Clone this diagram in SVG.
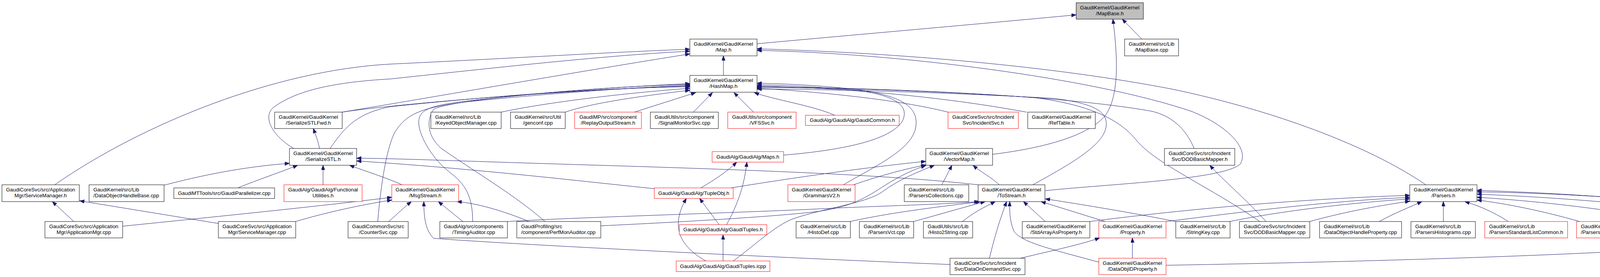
<svg xmlns="http://www.w3.org/2000/svg" width="4921" height="709" viewBox="0 0 4921 709">
<defs>
<style>
.n rect{fill:#fff;stroke:#000;stroke-width:1}
.r rect{stroke:#f00}
.g rect{fill:#bfbfbf}
text{font-family:"Liberation Sans",Arial,Helvetica,sans-serif;font-size:13.33px;fill:#000}
.c{text-anchor:middle}
#edges path{fill:none;stroke:#191970;stroke-width:1;marker-end:url(#ah)}
</style>
<marker id="ah" markerUnits="userSpaceOnUse" markerWidth="13" markerHeight="10" refX="12" refY="4.5" orient="auto"><path d="M0,0 L12,4.5 L0,9 z" fill="#191970" stroke="#191970" stroke-width="1"/></marker>
</defs>
<rect width="4921" height="709" fill="#fff"/>
<g id="edges">
<path d="M1938,112 C2200,88 2500,62 2755,38"/>
<path d="M2541,395 C2680,378 2790,345 2830,295 C2865,245 2862,150 2849,49"/>
<path d="M2923,100 L2873,49"/>
<path d="M1852,193 L1852,143"/>
<path d="M140,473 C360,320 700,180 1000,164 C1300,150 1550,134 1766,126"/>
<path d="M752,380 C700,350 670,300 700,275 C760,230 860,210 1000,202 C1300,170 1550,142 1766,131"/>
<path d="M876,287 C1100,250 1500,180 1766,138"/>
<path d="M3650,473 C3500,370 3250,280 3000,228 C2700,170 2300,135 1938,125"/>
<path d="M2676,488 C2850,470 3130,460 3175,420 C3200,380 3140,320 3050,285 C2800,200 2300,136 1938,129"/>
<path d="M876,287 C1000,268 1400,233 1766,220"/>
<path d="M845,380 C880,330 910,290 1000,273 C1300,242 1550,225 1766,222"/>
<path d="M967,567 C975,470 990,380 1010,340 C1040,290 1080,275 1200,260 C1400,240 1600,225 1766,218"/>
<path d="M1210,567 C1210,500 1190,470 1150,440 C1100,400 1070,340 1072,310 C1075,280 1100,270 1200,258 C1400,235 1600,220 1766,216"/>
<path d="M1395,567 C1320,500 1200,430 1130,380 C1095,350 1090,310 1110,280 C1150,255 1500,226 1766,214"/>
<path d="M1283,287 C1400,262 1600,238 1766,226"/>
<path d="M1447,287 C1520,262 1650,245 1766,231"/>
<path d="M1624,287 L1781,237"/>
<path d="M1775,287 L1824,237"/>
<path d="M1929,287 L1879,237"/>
<path d="M2137,295 C2080,270 1980,255 1931,237"/>
<path d="M2006,397 C2150,385 2280,360 2310,310 C2330,270 2290,245 2200,232 C2100,222 2000,218 1938,217"/>
<path d="M2159,473 C2250,420 2340,380 2345,320 C2350,270 2300,245 2200,230 C2100,218 2000,214 1938,213"/>
<path d="M2427,287 C2300,255 2100,235 1938,226"/>
<path d="M2628,287 C2400,245 2150,225 1938,220"/>
<path d="M2644,473 C2740,420 2830,370 2832,320 C2834,285 2800,265 2700,252 C2400,235 2100,228 1938,228"/>
<path d="M3057,380 C3040,340 3010,300 2950,285 C2700,240 2200,224 1938,222"/>
<path d="M3225,567 C3100,480 2960,420 2910,360 C2870,310 2800,270 2650,250 C2400,232 2100,224 1938,224"/>
<path d="M1871,481 C2000,460 2200,430 2370,413"/>
<path d="M2185,473 C2250,450 2320,432 2370,422"/>
<path d="M1877,668 C1930,630 1980,580 2030,560 C2120,530 2220,520 2260,490 C2300,460 2350,440 2392,423"/>
<path d="M1538,578 C1750,568 1950,556 2060,545 C2170,535 2210,510 2260,478 C2300,452 2340,433 2370,424"/>
<path d="M2411,473 L2437,423"/>
<path d="M2558,473 C2540,455 2510,440 2491,423"/>
<path d="M1299,567 C1500,555 1900,545 2150,532 C2300,526 2430,522 2506,516"/>
<path d="M2176,567 C2300,540 2420,528 2510,516"/>
<path d="M2339,567 C2400,550 2470,530 2522,516"/>
<path d="M2464,567 C2490,545 2520,530 2548,516"/>
<path d="M2533,661 C2545,610 2560,560 2577,516"/>
<path d="M2813,671 C2700,640 2610,620 2595,590 C2585,565 2584,540 2585,516"/>
<path d="M2676,567 L2620,516"/>
<path d="M2829,567 L2665,516"/>
<path d="M3010,567 C2900,545 2780,525 2676,509"/>
<path d="M1029,473 C990,455 940,440 895,423"/>
<path d="M314,579 C500,560 800,530 1003,505"/>
<path d="M757,567 C830,545 920,525 1003,512"/>
<path d="M995,567 C1015,550 1035,530 1053,516"/>
<path d="M1185,567 L1122,516"/>
<path d="M1354,567 C1290,540 1220,520 1170,516"/>
<path d="M2432,677 C2000,660 1300,625 1110,610 C1090,590 1085,560 1085,516"/>
<path d="M189,567 L134,516"/>
<path d="M559,572 L204,514"/>
<path d="M420,474 C550,440 650,425 741,418"/>
<path d="M609,481 C660,460 720,440 762,423"/>
<path d="M827,473 L827,423"/>
<path d="M818,380 C814,360 808,345 802,329"/>
<path d="M2504,473 C2300,450 2000,437 1500,422 C1200,413 1000,405 913,405"/>
<path d="M1675,483 C1500,465 1200,430 913,412"/>
<path d="M1794,481 C1830,460 1860,440 1886,415"/>
<path d="M1860,575 C1885,530 1905,480 1912,415"/>
<path d="M1841,575 L1791,508"/>
<path d="M1807,668 C1740,630 1715,580 1757,508"/>
<path d="M1851,668 L1851,601"/>
<path d="M2899,661 L2899,609"/>
<path d="M2612,661 C2700,640 2770,625 2815,609"/>
<path d="M2790,567 C3000,540 3300,510 3609,500"/>
<path d="M2985,567 C3200,540 3400,515 3609,505"/>
<path d="M3148,567 C3280,540 3450,520 3609,509"/>
<path d="M3353,567 C3450,540 3540,525 3609,515"/>
<path d="M3531,567 C3570,545 3610,530 3640,516"/>
<path d="M3695,567 L3695,516"/>
<path d="M3861,567 C3820,540 3780,525 3750,516"/>
<path d="M4044,567 C3950,540 3850,520 3781,512"/>
<path d="M4280,567 C4150,540 3950,515 3781,505"/>
<path d="M4537,567 C4300,530 4000,505 3781,497"/>
<path d="M4728,567 C4400,520 4050,495 3781,491"/>
<path d="M2985,679 C3500,670 4200,650 4440,622 C4490,605 4495,570 4455,553 C4300,510 4000,495 3781,487"/>
<path d="M3241,567 C3190,510 3130,460 3097,423"/>
</g>
<g id="n_mapbase_h" class="n g"><rect x="2755" y="7" width="172" height="42"/><text class="c" x="2841" y="24">GaudiKernel/GaudiKernel</text><text class="c" x="2841" y="39">/MapBase.h</text></g>
<g id="n_map_h" class="n"><rect x="1766" y="100" width="172" height="43"/><text class="c" x="1852" y="117">GaudiKernel/GaudiKernel</text><text class="c" x="1852" y="132">/Map.h</text></g>
<g id="n_mapbase_cpp" class="n"><rect x="2879" y="100" width="138" height="43"/><text class="c" x="2948" y="117">GaudiKernel/src/Lib</text><text class="c" x="2948" y="132">/MapBase.cpp</text></g>
<g id="n_hashmap_h" class="n"><rect x="1766" y="193" width="172" height="43"/><text class="c" x="1852" y="210">GaudiKernel/GaudiKernel</text><text class="c" x="1852" y="225">/HashMap.h</text></g>
<g id="n_serializestlfwd_h" class="n"><rect x="703" y="287" width="173" height="42"/><text class="c" x="789.5" y="304">GaudiKernel/GaudiKernel</text><text class="c" x="789.5" y="319">/SerializeSTLFwd.h</text></g>
<g id="n_keyedobjectmanager_cpp" class="n"><rect x="1103" y="287" width="180" height="42"/><text x="1114" y="304">GaudiKernel/src/Lib</text><text x="1114" y="319">/KeyedObjectManager.cpp</text></g>
<g id="n_genconf_cpp" class="n"><rect x="1307" y="287" width="140" height="42"/><text class="c" x="1377" y="304">GaudiKernel/src/Util</text><text class="c" x="1377" y="319">/genconf.cpp</text></g>
<g id="n_replayoutputstream_h" class="n r"><rect x="1471" y="287" width="171" height="42"/><text class="c" x="1556.5" y="304">GaudiMP/src/component</text><text class="c" x="1556.5" y="319">/ReplayOutputStream.h</text></g>
<g id="n_signalmonitorsvc_cpp" class="n"><rect x="1665" y="287" width="174" height="42"/><text class="c" x="1752" y="304">GaudiUtils/src/component</text><text class="c" x="1752" y="319">/SignalMonitorSvc.cpp</text></g>
<g id="n_vfssvc_h" class="n r"><rect x="1863" y="287" width="175" height="42"/><text class="c" x="1950.5" y="304">GaudiUtils/src/component</text><text class="c" x="1950.5" y="319">/VFSSvc.h</text></g>
<g id="n_gaudicommon_h" class="n r"><rect x="2062" y="295" width="240" height="26"/><text class="c" x="2182" y="312">GaudiAlg/GaudiAlg/GaudiCommon.h</text></g>
<g id="n_incidentsvc_h" class="n r"><rect x="2427" y="287" width="180" height="42"/><text class="c" x="2517" y="304">GaudiCoreSvc/src/Incident</text><text class="c" x="2517" y="319">Svc/IncidentSvc.h</text></g>
<g id="n_reftable_h" class="n"><rect x="2631" y="287" width="173" height="42"/><text class="c" x="2717.5" y="304">GaudiKernel/GaudiKernel</text><text class="c" x="2717.5" y="319">/RefTable.h</text></g>
<g id="n_serializestl_h" class="n"><rect x="741" y="380" width="172" height="43"/><text class="c" x="827" y="397">GaudiKernel/GaudiKernel</text><text class="c" x="827" y="412">/SerializeSTL.h</text></g>
<g id="n_maps_h" class="n r"><rect x="1823" y="388" width="183" height="27"/><text class="c" x="1914.5" y="406">GaudiAlg/GaudiAlg/Maps.h</text></g>
<g id="n_vectormap_h" class="n"><rect x="2370" y="380" width="171" height="43"/><text class="c" x="2455.5" y="397">GaudiKernel/GaudiKernel</text><text class="c" x="2455.5" y="412">/VectorMap.h</text></g>
<g id="n_dodbasicmapper_h" class="n"><rect x="2981" y="380" width="180" height="43"/><text class="c" x="3071" y="397">GaudiCoreSvc/src/Incident</text><text class="c" x="3071" y="412">Svc/DODBasicMapper.h</text></g>
<g id="n_servicemanager_h" class="n"><rect x="5" y="473" width="198" height="43"/><text class="c" x="104" y="490">GaudiCoreSvc/src/Application</text><text class="c" x="104" y="505">Mgr/ServiceManager.h</text></g>
<g id="n_dataobjecthandlebase_cpp" class="n"><rect x="228" y="473" width="192" height="43"/><text x="239" y="490">GaudiKernel/src/Lib</text><text x="239" y="505">/DataObjectHandleBase.cpp</text></g>
<g id="n_gaudiparallelizer_cpp" class="n"><rect x="445" y="481" width="258" height="27"/><text class="c" x="574" y="499">GaudiMTTools/src/GaudiParallelizer.cpp</text></g>
<g id="n_functionalutilities_h" class="n r"><rect x="727" y="473" width="200" height="43"/><text class="c" x="827" y="490">GaudiAlg/GaudiAlg/Functional</text><text class="c" x="827" y="505">Utilities.h</text></g>
<g id="n_msgstream_h" class="n r"><rect x="1003" y="473" width="171" height="43"/><text class="c" x="1088.5" y="490">GaudiKernel/GaudiKernel</text><text class="c" x="1088.5" y="505">/MsgStream.h</text></g>
<g id="n_tupleobj_h" class="n r"><rect x="1675" y="481" width="202" height="27"/><text class="c" x="1776" y="499">GaudiAlg/GaudiAlg/TupleObj.h</text></g>
<g id="n_grammarsv2_h" class="n r"><rect x="2017" y="473" width="172" height="43"/><text class="c" x="2103" y="490">GaudiKernel/GaudiKernel</text><text class="c" x="2103" y="505">/GrammarsV2.h</text></g>
<g id="n_parserscollections_cpp" class="n"><rect x="2315" y="473" width="165" height="43"/><text x="2326" y="490">GaudiKernel/src/Lib</text><text x="2326" y="505">/ParsersCollections.cpp</text></g>
<g id="n_tostream_h" class="n"><rect x="2504" y="473" width="171" height="43"/><text class="c" x="2589.5" y="490">GaudiKernel/GaudiKernel</text><text class="c" x="2589.5" y="505">/ToStream.h</text></g>
<g id="n_parsers_h" class="n"><rect x="3609" y="473" width="172" height="43"/><text class="c" x="3695" y="490">GaudiKernel/GaudiKernel</text><text class="c" x="3695" y="505">/Parsers.h</text></g>
<g id="n_applicationmgr_cpp" class="n"><rect x="115" y="567" width="199" height="42"/><text class="c" x="214.5" y="584">GaudiCoreSvc/src/Application</text><text class="c" x="214.5" y="599">Mgr/ApplicationMgr.cpp</text></g>
<g id="n_servicemanager_cpp" class="n"><rect x="559" y="567" width="198" height="42"/><text class="c" x="658" y="584">GaudiCoreSvc/src/Application</text><text class="c" x="658" y="599">Mgr/ServiceManager.cpp</text></g>
<g id="n_countersvc_cpp" class="n"><rect x="891" y="567" width="154" height="42"/><text class="c" x="968" y="584">GaudiCommonSvc/src</text><text class="c" x="968" y="599">/CounterSvc.cpp</text></g>
<g id="n_timingauditor_cpp" class="n"><rect x="1126" y="567" width="173" height="42"/><text class="c" x="1212.5" y="584">GaudiAlg/src/components</text><text class="c" x="1212.5" y="599">/TimingAuditor.cpp</text></g>
<g id="n_perfmonauditor_cpp" class="n"><rect x="1323" y="567" width="215" height="42"/><text x="1334" y="584">GaudiProfiling/src</text><text x="1334" y="599">/component/PerfMonAuditor.cpp</text></g>
<g id="n_gaudituples_h" class="n r"><rect x="1739" y="575" width="224" height="26"/><text class="c" x="1851" y="592">GaudiAlg/GaudiAlg/GaudiTuples.h</text></g>
<g id="n_histodef_cpp" class="n"><rect x="2038" y="567" width="139" height="42"/><text class="c" x="2107.5" y="584">GaudiKernel/src/Lib</text><text class="c" x="2107.5" y="599">/HistoDef.cpp</text></g>
<g id="n_parsersvct_cpp" class="n"><rect x="2200" y="567" width="139" height="42"/><text class="c" x="2269.5" y="584">GaudiKernel/src/Lib</text><text class="c" x="2269.5" y="599">/ParsersVct.cpp</text></g>
<g id="n_histo2string_cpp" class="n"><rect x="2364" y="567" width="126" height="42"/><text class="c" x="2427" y="584">GaudiUtils/src/Lib</text><text class="c" x="2427" y="599">/Histo2String.cpp</text></g>
<g id="n_stdarrayasproperty_h" class="n"><rect x="2617" y="567" width="173" height="42"/><text class="c" x="2703.5" y="584">GaudiKernel/GaudiKernel</text><text class="c" x="2703.5" y="599">/StdArrayAsProperty.h</text></g>
<g id="n_property_h" class="n r"><rect x="2813" y="567" width="172" height="42"/><text class="c" x="2899" y="584">GaudiKernel/GaudiKernel</text><text class="c" x="2899" y="599">/Property.h</text></g>
<g id="n_stringkey_cpp" class="n"><rect x="3010" y="567" width="139" height="42"/><text class="c" x="3079.5" y="584">GaudiKernel/src/Lib</text><text class="c" x="3079.5" y="599">/StringKey.cpp</text></g>
<g id="n_dodbasicmapper_cpp" class="n"><rect x="3173" y="567" width="180" height="42"/><text class="c" x="3263" y="584">GaudiCoreSvc/src/Incident</text><text class="c" x="3263" y="599">Svc/DODBasicMapper.cpp</text></g>
<g id="n_dataobjecthandleproperty_cpp" class="n"><rect x="3378" y="567" width="210" height="42"/><text x="3389" y="584">GaudiKernel/src/Lib</text><text x="3389" y="599">/DataObjectHandleProperty.cpp</text></g>
<g id="n_parsershistograms_cpp" class="n"><rect x="3612" y="567" width="165" height="42"/><text x="3623" y="584">GaudiKernel/src/Lib</text><text x="3623" y="599">/ParsersHistograms.cpp</text></g>
<g id="n_parsersstandardlistcommon_h" class="n r"><rect x="3801" y="567" width="212" height="42"/><text x="3812" y="584">GaudiKernel/src/Lib</text><text x="3812" y="599">/ParsersStandardListCommon.h</text></g>
<g id="n_parsersstandardmisccommon_h" class="n r"><rect x="4036" y="567" width="215" height="42"/><text x="4047" y="584">GaudiKernel/src/Lib</text><text x="4047" y="599">/ParsersStandardMiscCommon.h</text></g>
<g id="n_parsersstandardsingle_cpp" class="n"><rect x="4277" y="567" width="184" height="42"/><text x="4288" y="584">GaudiKernel/src/Lib</text><text x="4288" y="599">/ParsersStandardSingle.cpp</text></g>
<g id="n_boostarrayasproperty_h" class="n"><rect x="4536" y="567" width="168" height="42"/><text class="c" x="4620" y="584">GaudiKernel/GaudiKernel</text><text class="c" x="4620" y="599">/BoostArrayAsProperty.h</text></g>
<g id="n_svectorasproperty_h" class="n"><rect x="4728" y="567" width="168" height="42"/><text class="c" x="4812" y="584">GaudiKernel/GaudiKernel</text><text class="c" x="4812" y="599">/SVectorAsProperty.h</text></g>
<g id="n_gaudituples_icpp" class="n r"><rect x="1731" y="668" width="240" height="27"/><text class="c" x="1851" y="686">GaudiAlg/GaudiAlg/GaudiTuples.icpp</text></g>
<g id="n_dataondemandsvc_cpp" class="n"><rect x="2432" y="661" width="192" height="42"/><text x="2443" y="678">GaudiCoreSvc/src/Incident</text><text x="2443" y="693">Svc/DataOnDemandSvc.cpp</text></g>
<g id="n_dataobjidproperty_h" class="n r"><rect x="2813" y="661" width="172" height="42"/><text class="c" x="2899" y="678">GaudiKernel/GaudiKernel</text><text class="c" x="2899" y="693">/DataObjIDProperty.h</text></g>
</svg>
